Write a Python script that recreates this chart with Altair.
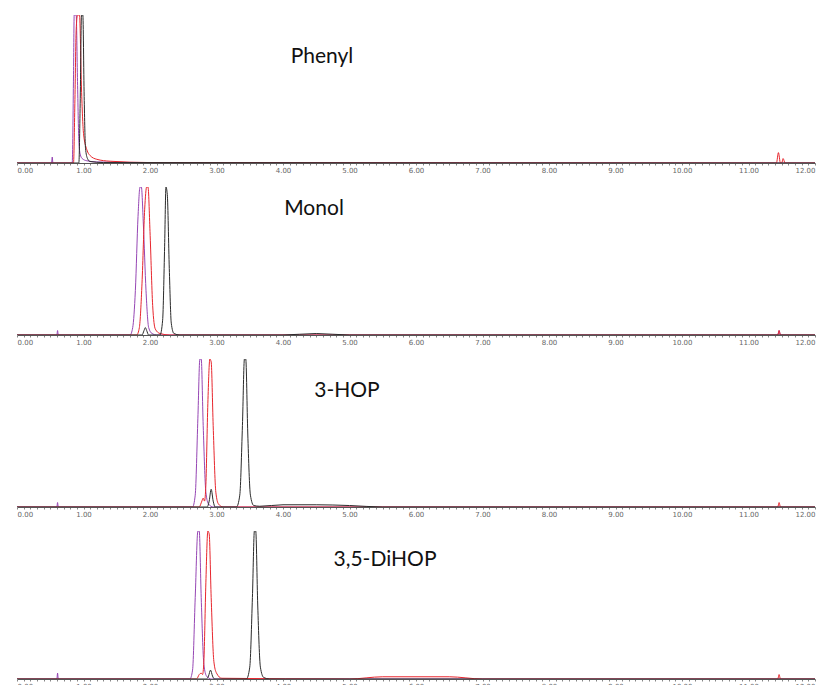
import altair as alt
import pandas as pd

panel_names = ["Phenyl", "Monol", "3-HOP", "3,5-DiHOP"]
trace_names = ["purple", "red", "black"]
trace_colors = ["#9646b4", "#e8262d", "#2b2b2b"]

# ---- Panel 1: Phenyl ----
p1_purple_t = [0.0, 0.52, 0.53, 0.54, 0.83, 0.85, 0.86, 0.89, 0.91, 0.93, 0.95, 0.98, 1.05, 1.2, 2.0, 12.0]
p1_purple_v = [0.0, 0.0, 4.0, 0.0, 0.0, 60.0, 100.0, 100.0, 55.0, 15.0, 6.0, 3.0, 1.5, 0.7, 0.3, 0.0]
p1_red_t = [0.0, 0.85, 0.87, 0.89, 0.91, 0.94, 0.97, 1.0, 1.05, 1.1, 1.2, 1.4, 2.0, 11.42, 11.45, 11.48, 11.5, 11.52, 11.55, 12.0]
p1_red_v = [0.0, 0.0, 40.0, 90.0, 100.0, 100.0, 50.0, 20.0, 9.0, 5.0, 2.5, 1.2, 0.3, 0.0, 7.0, 0.0, 0.0, 3.0, 0.0, 0.0]
p1_black_t = [0.0, 0.93, 0.95, 0.97, 0.99, 1.01, 1.03, 1.06, 1.1, 1.3, 12.0]
p1_black_v = [0.0, 0.0, 40.0, 100.0, 100.0, 45.0, 10.0, 3.0, 1.0, 0.3, 0.0]

# ---- Panel 2: Monol ----
p2_purple_t = [0.0, 0.6, 0.61, 0.62, 1.70, 1.74, 1.78, 1.82, 1.85, 1.87, 1.90, 1.94, 1.98, 2.03, 2.1, 11.44, 11.46, 11.48, 12.0]
p2_purple_v = [0.0, 0.0, 3.0, 0.0, 0.0, 5.0, 30.0, 80.0, 100.0, 100.0, 75.0, 30.0, 5.0, 1.0, 0.0, 0.0, 3.0, 0.0, 0.0]
p2_red_t = [0.0, 1.80, 1.84, 1.88, 1.92, 1.95, 1.97, 2.0, 2.04, 2.08, 2.15, 2.3, 11.44, 11.46, 11.48, 12.0]
p2_red_v = [0.0, 0.0, 5.0, 35.0, 85.0, 100.0, 100.0, 70.0, 20.0, 4.0, 1.0, 0.0, 0.0, 3.0, 0.0, 0.0]
p2_black_t = [0.0, 1.88, 1.91, 1.93, 1.95, 1.98, 2.15, 2.19, 2.22, 2.24, 2.26, 2.29, 2.32, 2.36, 2.45, 4.0, 4.5, 5.0, 12.0]
p2_black_v = [0.0, 0.0, 3.0, 5.0, 3.0, 0.0, 0.0, 10.0, 60.0, 100.0, 95.0, 45.0, 8.0, 1.0, 0.0, 0.0, 1.0, 0.0, 0.0]

# ---- Panel 3: 3-HOP ----
p3_purple_t = [0.0, 0.6, 0.61, 0.62, 2.64, 2.68, 2.72, 2.75, 2.77, 2.80, 2.84, 2.88, 2.95, 12.0]
p3_purple_v = [0.0, 0.0, 3.0, 0.0, 0.0, 8.0, 60.0, 100.0, 100.0, 55.0, 10.0, 2.0, 0.0, 0.0]
p3_red_t = [0.0, 2.74, 2.78, 2.80, 2.82, 2.84, 2.87, 2.90, 2.92, 2.95, 2.99, 3.03, 3.1, 11.44, 11.46, 11.48, 12.0]
p3_red_v = [0.0, 0.0, 4.0, 6.0, 4.0, 15.0, 70.0, 100.0, 98.0, 55.0, 10.0, 2.0, 0.0, 0.0, 3.0, 0.0, 0.0]
p3_black_t = [0.0, 2.86, 2.89, 2.92, 2.95, 2.98, 3.30, 3.35, 3.39, 3.42, 3.44, 3.47, 3.51, 3.56, 3.65, 4.0, 4.5, 5.0, 5.5, 12.0]
p3_black_v = [0.0, 0.0, 4.0, 12.0, 4.0, 0.0, 0.0, 8.0, 55.0, 100.0, 100.0, 50.0, 8.0, 1.0, 0.5, 1.5, 1.5, 1.0, 0.0, 0.0]

# ---- Panel 4: 3,5-DiHOP ----
p4_purple_t = [0.0, 0.6, 0.61, 0.62, 2.60, 2.64, 2.68, 2.72, 2.74, 2.77, 2.81, 2.85, 2.92, 12.0]
p4_purple_v = [0.0, 0.0, 4.0, 0.0, 0.0, 6.0, 55.0, 100.0, 100.0, 55.0, 10.0, 2.0, 0.0, 0.0]
p4_red_t = [0.0, 2.70, 2.74, 2.77, 2.79, 2.81, 2.84, 2.87, 2.89, 2.92, 2.96, 3.0, 3.08, 5.0, 5.5, 6.5, 7.0, 11.44, 11.46, 11.48, 12.0]
p4_red_v = [0.0, 0.0, 3.0, 4.0, 3.0, 12.0, 65.0, 100.0, 98.0, 55.0, 12.0, 4.0, 0.5, 0.0, 1.5, 1.5, 0.0, 0.0, 3.0, 0.0, 0.0]
p4_black_t = [0.0, 2.85, 2.88, 2.91, 2.94, 2.97, 3.45, 3.50, 3.54, 3.57, 3.59, 3.62, 3.66, 3.71, 3.8, 12.0]
p4_black_v = [0.0, 0.0, 2.0, 6.0, 2.0, 0.0, 0.0, 8.0, 55.0, 100.0, 100.0, 50.0, 8.0, 1.0, 0.0, 0.0]

series = {
    (0, "purple"): (p1_purple_t, p1_purple_v),
    (0, "red"): (p1_red_t, p1_red_v),
    (0, "black"): (p1_black_t, p1_black_v),
    (1, "purple"): (p2_purple_t, p2_purple_v),
    (1, "red"): (p2_red_t, p2_red_v),
    (1, "black"): (p2_black_t, p2_black_v),
    (2, "purple"): (p3_purple_t, p3_purple_v),
    (2, "red"): (p3_red_t, p3_red_v),
    (2, "black"): (p3_black_t, p3_black_v),
    (3, "purple"): (p4_purple_t, p4_purple_v),
    (3, "red"): (p4_red_t, p4_red_v),
    (3, "black"): (p4_black_t, p4_black_v),
}

rows = []
for (pi, tr), (ts, vs) in series.items():
    for i, (a, b) in enumerate(zip(ts, vs)):
        rows.append({"panel": panel_names[pi], "trace": tr, "t": a, "v": b, "ord": i})
df = pd.DataFrame(rows)

# label placement inside each panel (pixels in the panel's plot area)
label_pos = [(305, 48), (297, 28), (330, 38), (368, 35)]

tick_values = [round(k * 0.1, 1) for k in range(0, 121)]

x_axis = alt.Axis(
    values=tick_values,
    labelExpr="abs(datum.value - round(datum.value)) < 0.001 ? format(datum.value, '.2f') : ''",
    grid=False,
    title=None,
    domainColor="#555555",
    domainWidth=1,
    tickColor="#666666",
    tickSize=2,
    tickWidth=0.8,
    labelFontSize=7,
    labelColor="#666666",
    labelPadding=1,
    labelFont="DejaVu Sans",
    labelOverlap=False,
)


def make_panel(pi):
    name = panel_names[pi]
    base = alt.Chart(df).transform_filter(alt.datum.panel == name)
    layers = []
    for tr, col in zip(trace_names, trace_colors):
        layers.append(
            base.transform_filter(alt.datum.trace == tr)
            .mark_line(color=col, strokeWidth=1, clip=True, interpolate="monotone")
            .encode(
                x=alt.X("t:Q", scale=alt.Scale(domain=[0, 12], nice=False, zero=False), axis=x_axis),
                y=alt.Y("v:Q", scale=alt.Scale(domain=[0, 100], nice=False), axis=None),
                order="ord:Q",
            )
        )
    lx, ly = label_pos[pi]
    txt = (
        alt.Chart(pd.DataFrame({"label": [name]}))
        .mark_text(font="Lato", fontSize=21, color="#111111", align="center", baseline="alphabetic")
        .encode(x=alt.value(lx), y=alt.value(ly), text="label:N")
    )
    return alt.layer(*layers, txt).properties(width=798, height=148)


chart = (
    alt.VConcatChart(vconcat=[make_panel(i) for i in range(4)], spacing=24, bounds="flush")
    .properties(padding={"left": 8, "top": 7, "right": 0, "bottom": 0}, background="white")
    .configure_view(stroke=None)
)

chart.save("out.html", embed_options={"renderer": "svg", "actions": False})
